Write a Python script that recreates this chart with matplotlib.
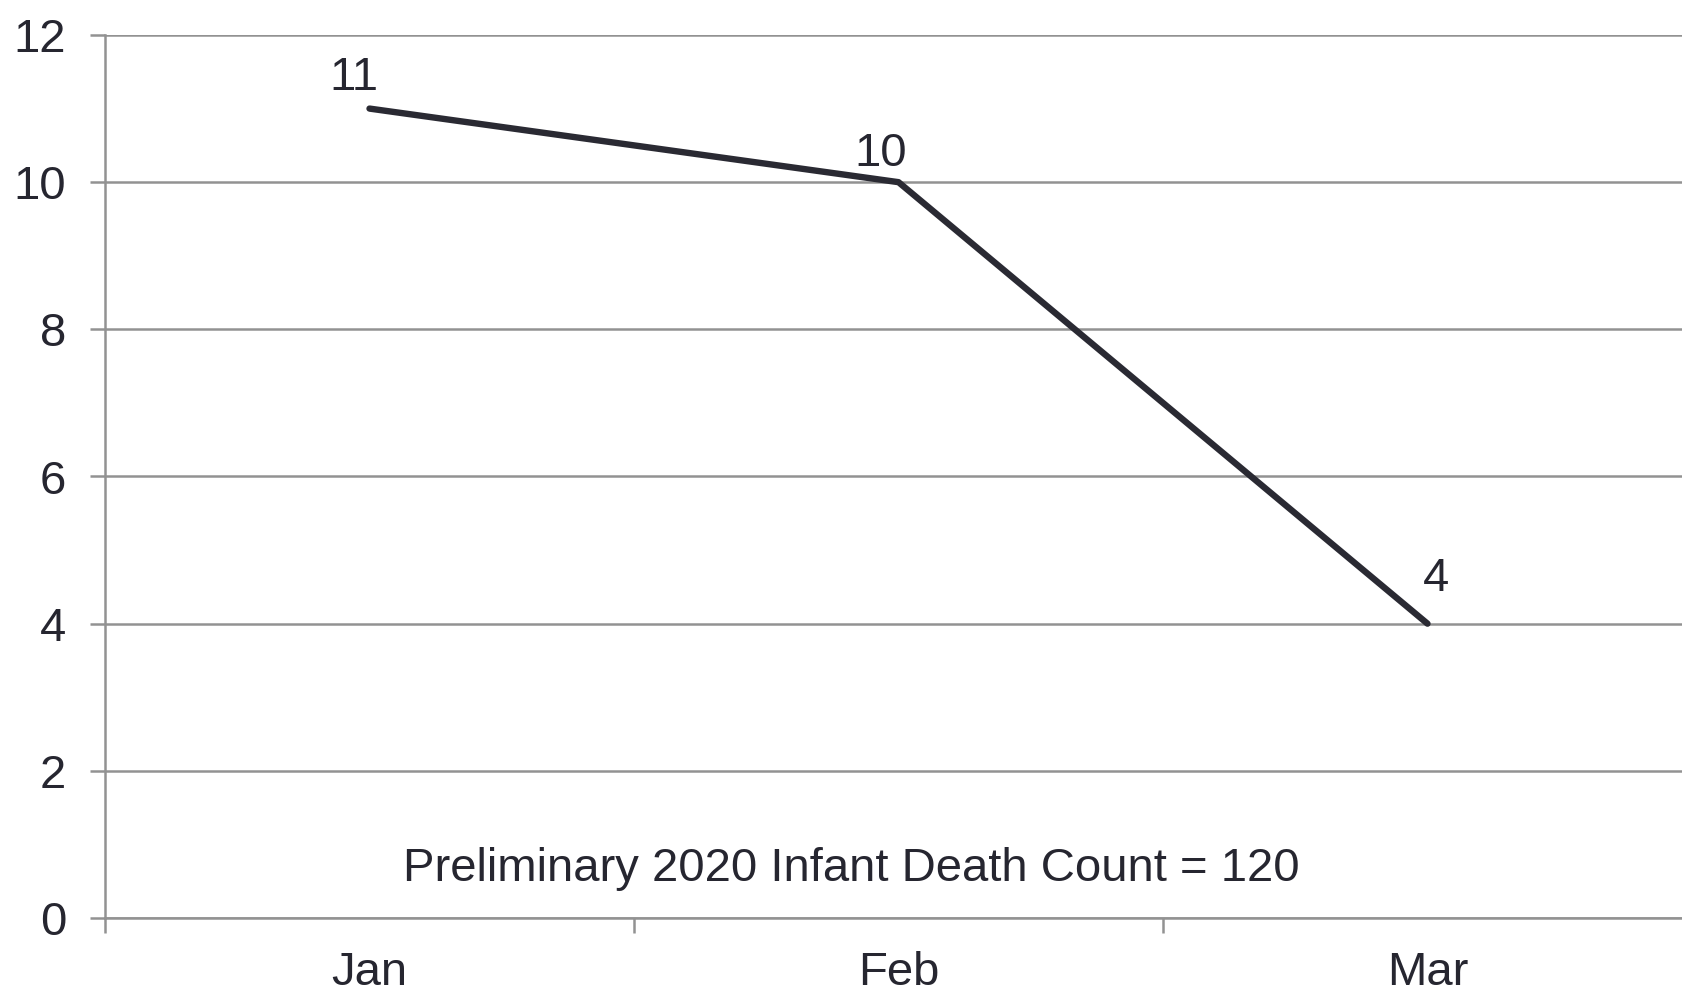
import matplotlib
matplotlib.use('Agg')
import matplotlib.pyplot as plt
import numpy as np

plt.rcParams['font.family'] = ['Liberation Sans', 'DejaVu Sans']

months = ['Jan', 'Feb', 'Mar']
deaths = [11, 10, 4]
label_offsets = [(-11, 22), (-13, 20), (6, 32)]  # points, label placement
note = 'Preliminary 2020 Infant Death Count = 120'

text_color = '#262630'
line_color = '#2a2a33'
grid_color = '#929292'
fs = 34

fig = plt.figure(figsize=(16.82, 9.96), dpi=100)
# plot area runs slightly past the right edge, as in the original
ax = fig.add_axes([105 / 1682, 1 - 918 / 996, (1692 - 105) / 1682, (918 - 35) / 996])

x = np.arange(len(months))
ax.plot(x, deaths, color=line_color, linewidth=4.6, solid_capstyle='round', zorder=3)

for xi, v, off in zip(x, deaths, label_offsets):
    ax.annotate(str(v), (xi, v), xytext=off, textcoords='offset points',
                ha='center', va='center', fontsize=fs, color=text_color)

ax.text(0.91, 0.67, note, ha='center', va='center', fontsize=fs, color=text_color)

ax.set_xlim(-0.5, 2.5)
ax.set_ylim(0, 12)
ax.set_yticks(np.arange(0, 13, 2))
ax.set_xticks(x)
ax.set_xticklabels(months)
ax.set_xticks(np.arange(-0.5, 3, 1), minor=True)

ax.yaxis.grid(True, color=grid_color, linewidth=1.8)
ax.set_axisbelow(True)
for s in ['top', 'right']:
    ax.spines[s].set_visible(False)
for s in ['left', 'bottom']:
    ax.spines[s].set_color(grid_color)
    ax.spines[s].set_linewidth(1.8)

ax.tick_params(axis='y', length=11, width=1.8, color=grid_color, pad=17,
               labelsize=fs, labelcolor=text_color)
ax.tick_params(axis='x', which='major', length=0, pad=24,
               labelsize=fs, labelcolor=text_color)
ax.tick_params(axis='x', which='minor', length=11, width=1.8, color=grid_color)

fig.savefig('out.png', dpi=100)
